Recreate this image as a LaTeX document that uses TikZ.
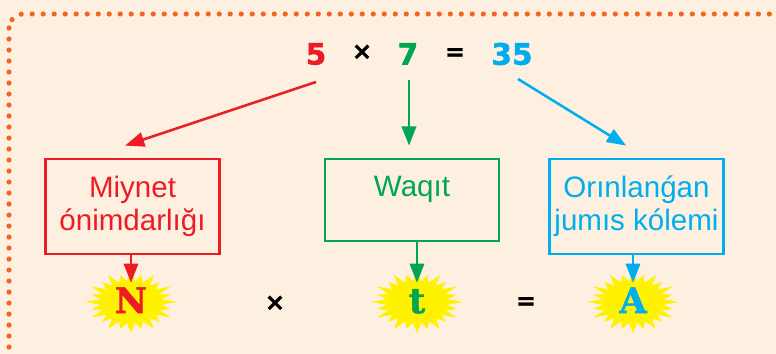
\documentclass[tikz,border=0pt]{standalone}
\usepackage{fontspec}
\setmainfont{Liberation Sans}
\newfontfamily\numfont{DejaVu Sans}[BoldFeatures={FakeBold=1.6}]
\newfontfamily\letfont{DejaVu Serif}[BoldFeatures={FakeBold=1.6}]
\usetikzlibrary{arrows.meta,calc}
\definecolor{bgcream}{HTML}{FEF0E1}
\definecolor{dotorange}{HTML}{F26522}
\definecolor{kred}{HTML}{ED1C24}
\definecolor{kgreen}{HTML}{00A651}
\definecolor{kblue}{HTML}{00AEEF}
\definecolor{sunyellow}{HTML}{FFF200}

% spiky yellow patch behind a letter
\newcommand\sunburst[1]{%
  \fill[sunyellow] ($(#1)+(0:46 and 31)$)
    \foreach \k [evaluate=\k as \rx using {isodd(\k) ? 31 : (mod(\k,4)==0 ? 46 : 41)},
                 evaluate=\k as \ry using {isodd(\k) ? 21 : (mod(\k,4)==0 ? 31 : 28)}] in {1,...,47}
      { -- ($(#1)+(\k*7.5:{\rx} and {\ry})$) } -- cycle;}

\begin{document}
\begin{tikzpicture}[
  x=0.025cm, y=-0.025cm,
  box/.style={draw=#1, text=#1, line width=2pt, fill=bgcream,
              minimum width=4.35cm, minimum height=2.375cm,
              align=center, font=\fontsize{21}{23.5}\selectfont},
  arrow/.style={-{Triangle[length=0.48cm,width=0.36cm]}, line width=1.8pt},
  numtxt/.style={font=\numfont\bfseries\fontsize{21}{21}\selectfont, inner sep=0pt},
  sign/.style={font=\numfont\bfseries\fontsize{17}{17}\selectfont, inner sep=0pt},
  letter/.style={font=\letfont\bfseries\fontsize{25}{25}\selectfont,
                 text height=0.75cm, text depth=0.1cm, inner sep=0pt}
]
\useasboundingbox (0,0) rectangle (776,354);
\clip (0,0) rectangle (776,354);
\fill[bgcream] (0,0) rectangle (776,354);

% Dotted frame
\draw[dotorange, line width=0.13cm, line cap=round,
      dash pattern=on 0pt off 0.275cm, rounded corners=0.35cm]
  (9,14) rectangle (800,362);

% Equation on top
\node[numtxt, text=kred]   (five)  at (316,54) {5};
\node[sign]                (times) at (362,52) {×};
\node[numtxt, text=kgreen] (seven) at (408,54) {7};
\node[sign]                (eq)    at (455,54) {=};
\node[numtxt, text=kblue]  (tf)    at (512,54) {35};

% Meaning boxes
\node[box=kred]   (mb) at (132.5,206.5) {Miynet\\ónimdarlığı};
\node[box=kgreen, minimum height=2.05cm,
      text height=0.35cm, text depth=0.5cm] (wb) at (412,200) {Waqıt};
\node[box=kblue]  (ob) at (636.5,206.5) {Orınlanǵan\\jumıs kólemi};

% Arrows from the numbers
\draw[arrow, kred]   ($(five)+(0,28)$)  -- ($(mb.north west)+(81,-12)$);
\draw[arrow, kgreen] ($(seven)+(1,26)$) -- ($(wb.north)+(-3,-12)$);
\draw[arrow, kblue]  ($(tf)+(6,25)$)    -- ($(ob.north west)+(78,-12)$);

% Formula with letters
\sunburst{131,302}
\sunburst{417,302}
\sunburst{633,302}
\node[letter, text=kred]   (nl) at (131,300) {N};
\node[sign]                (bx) at (275,303) {×};
\node[letter, text=kgreen] (tl) at (417,300) {t};
\node[sign]                (be) at (526,303) {=};
\node[letter, text=kblue]  (al) at (633,300) {A};

\draw[arrow, kred]   (mb.south -| nl) -- (nl.north);
\draw[arrow, kgreen] (wb.south -| tl) -- (tl.north);
\draw[arrow, kblue]  (ob.south -| al) -- (al.north);
\end{tikzpicture}
\end{document}
